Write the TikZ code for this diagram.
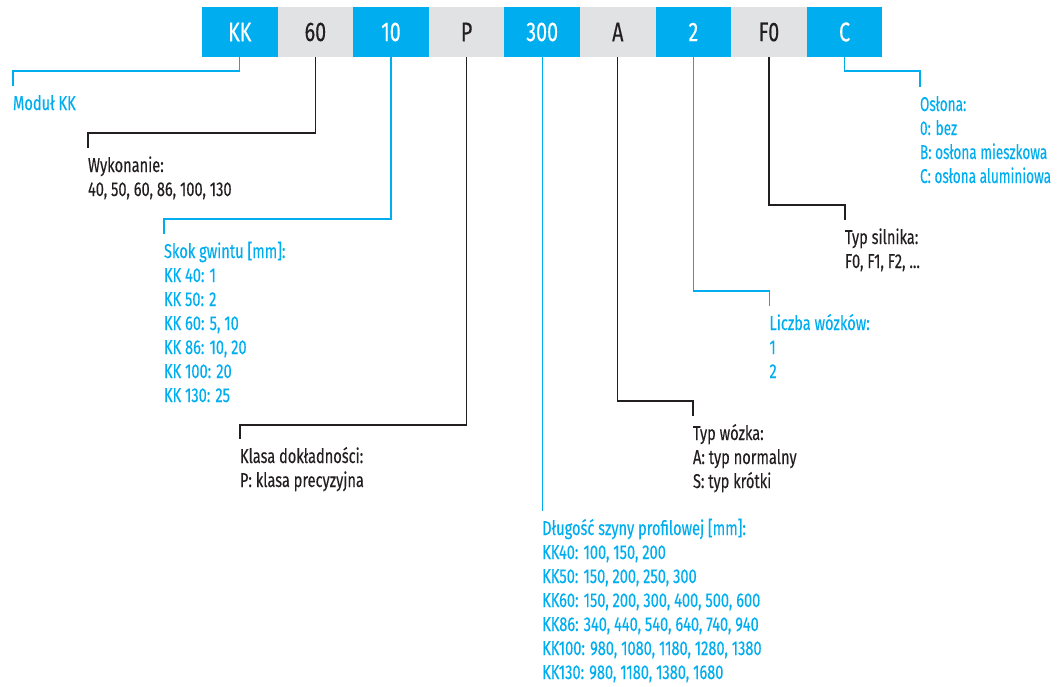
\documentclass[tikz,border=0pt]{standalone}
\usepackage{fontspec}
\setmainfont[FakeStretch=0.73,FakeBold=0.25]{Fira Sans}
\newfontfamily\narrowfont[FakeStretch=0.68,FakeBold=0.25]{Fira Sans}
\definecolor{hblue}{HTML}{00AEEF}
\definecolor{hgray}{HTML}{E1E2E4}
\definecolor{hdark}{HTML}{231F20}
\tikzset{
  codebox/.style={minimum width=75.6pt,minimum height=50pt,inner sep=0pt,outer sep=0pt,
    font=\fontsize{27}{30}\selectfont},
  bluebox/.style={codebox,fill=hblue,text=white},
  graybox/.style={codebox,fill=hgray,text=hdark},
  lbl/.style={anchor=north west,inner sep=0pt,outer sep=0pt,align=left,
    font=\fontsize{20}{24}\selectfont},
  bluelbl/.style={lbl,text=hblue},
  darklbl/.style={lbl,text=hdark},
  blueline/.style={draw=hblue,line width=1.1pt},
  darkline/.style={draw=hdark,line width=1.1pt},
}
\newcommand{\fl}{\rule{0pt}{24pt}}
\begin{document}
\begin{tikzpicture}[x=1pt,y=-1pt]
\useasboundingbox (0,0) rectangle (1059,686);
% code boxes
\node[bluebox] (kk)  at (239.8,32) {KK};
\node[graybox] (s60) at (315.4,32) {60};
\node[bluebox] (s10) at (391.0,32) {10};
\node[graybox] (sp)  at (466.6,32) {P};
\node[bluebox] (s300) at (542.2,32) {300};
\node[graybox] (sa)  at (617.8,32) {A};
\node[bluebox] (s2)  at (693.4,32) {2};
\node[graybox] (sf)  at (769.0,32) {F0};
\node[bluebox] (sc)  at (844.6,32) {C};
% labels
\node[bluelbl] (modul) at (13,86) {\fl Moduł KK};
\node[darklbl] (wyk) at (88,148) {\fl Wykonanie:\\40, 50, 60, 86, 100, 130};
\node[bluelbl] (skok) at (164,234) {\fl Skok gwintu [mm]:\\KK 40: 1\\KK 50: 2\\KK 60: 5, 10\\KK 86: 10, 20\\KK 100: 20\\KK 130: 25};
\node[darklbl] (klasa) at (240,439) {\fl Klasa dokładności:\\P: klasa precyzyjna};
\node[bluelbl] (dlug) at (542.2,511) {\fl Długość szyny profilowej [mm]:\\KK40: 100, 150, 200\\KK50: 150, 200, 250, 300\\KK60: 150, 200, 300, 400, 500, 600\\KK86: 340, 440, 540, 640, 740, 940\\KK100: 980, 1080, 1180, 1280, 1380\\KK130: 980, 1180, 1380, 1680};
\node[darklbl] (typw) at (693,416) {\fl Typ wózka:\\A: typ normalny\\S: typ krótki};
\node[bluelbl] (liczba) at (769.5,306) {\fl Liczba wózków:\\1\\2};
\node[darklbl] (typs) at (845,220) {\fl Typ silnika:\\F0, F1, F2, ...};
\node[bluelbl,font=\fontsize{20}{24}\narrowfont] (oslona) at (920,87) {\fl Osłona:\\0: bez\\B: osłona mieszkowa\\C: osłona aluminiowa};
% elbows
\coordinate (ekk) at (239.8,71);
\coordinate (e60) at (315.4,133);
\coordinate (e10) at (391.0,219);
\coordinate (ep)  at (466.6,425);
\coordinate (ea)  at (617.8,401);
\coordinate (e2)  at (693.4,291);
\coordinate (ef)  at (769.0,205);
\coordinate (ec)  at (844.6,71);
% connectors
\draw[blueline] (kk.south) -- (ekk) -| (modul.north west);
\draw[darkline] (s60.south) -- (e60) -| (wyk.north west);
\draw[blueline] (s10.south) -- (e10) -| (skok.north west);
\draw[darkline] (sp.south) -- (ep) -| (klasa.north west);
\draw[blueline] (s300.south) -- (dlug.north west);
\draw[darkline] (sa.south) -- (ea) -| (typw.north west);
\draw[blueline] (s2.south) -- (e2) -| (liczba.north west);
\draw[darkline] (sf.south) -- (ef) -| (typs.north west);
\draw[blueline] (sc.south) -- (ec) -| (oslona.north west);
\end{tikzpicture}
\end{document}
